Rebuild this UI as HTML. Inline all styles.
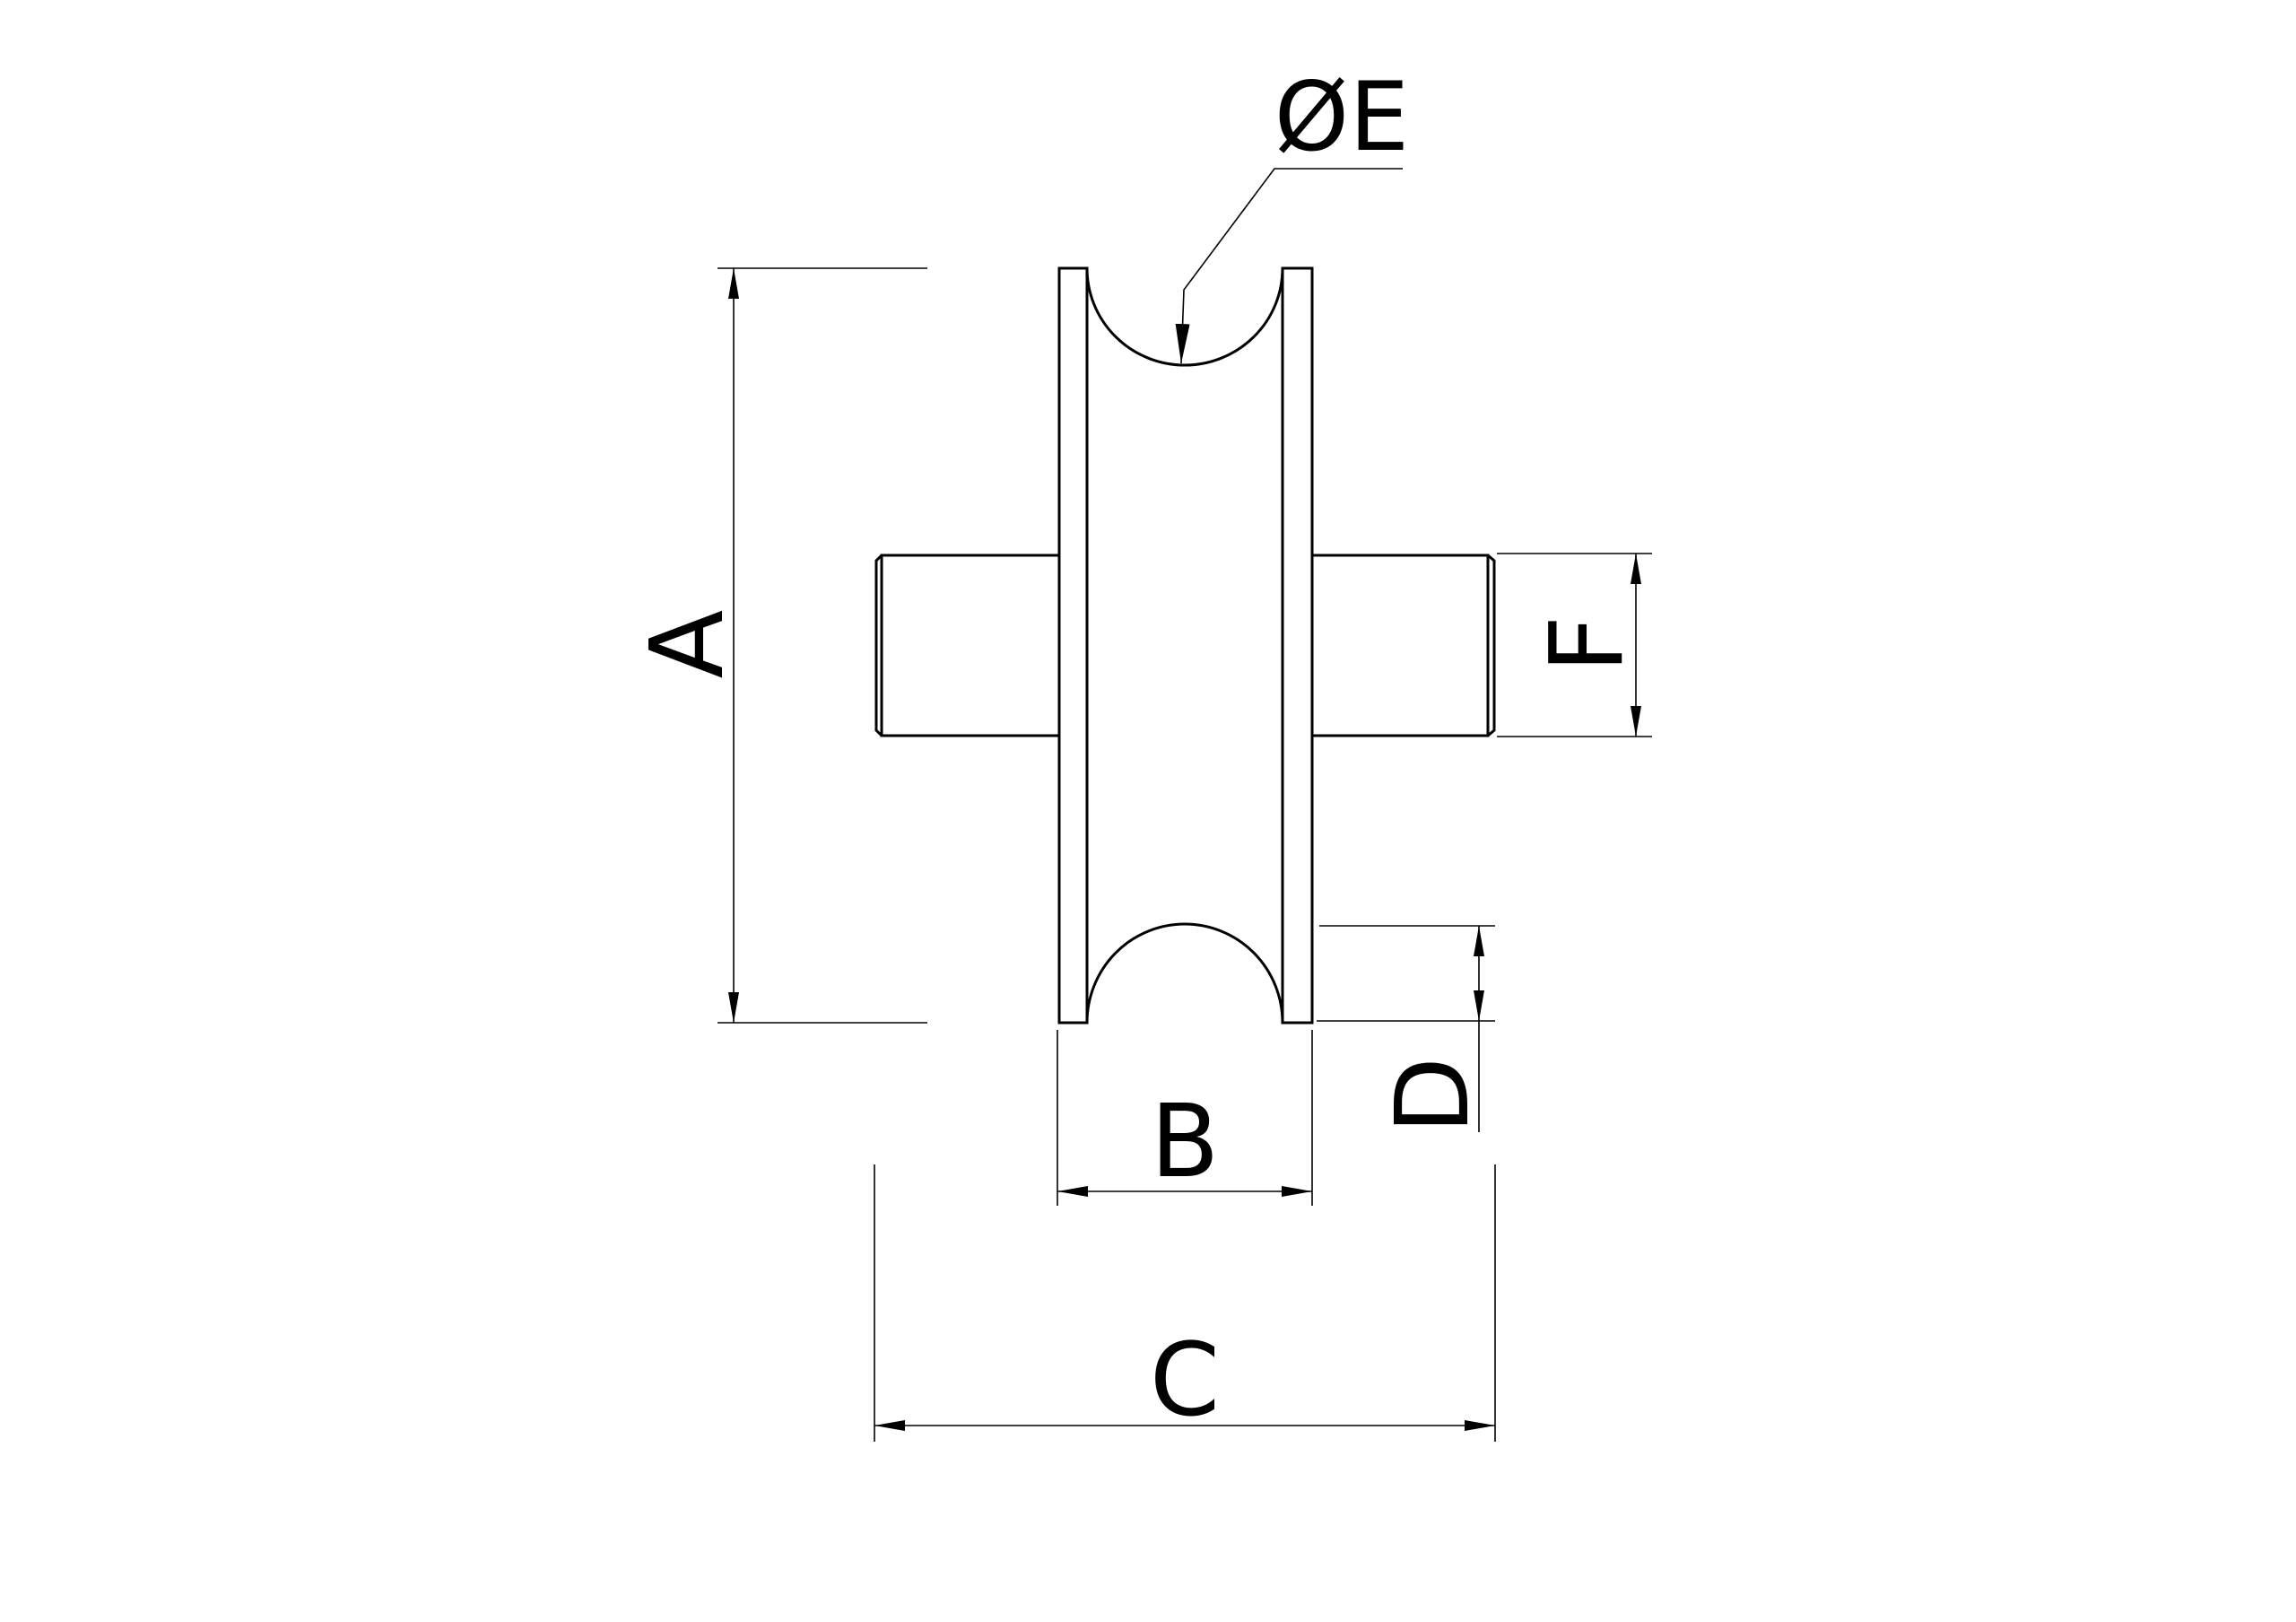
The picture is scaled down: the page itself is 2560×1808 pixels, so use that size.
<!DOCTYPE html>
<html><head><style>html,body{margin:0;padding:0;background:#fff}svg{display:block}</style></head>
<body>
<svg width="2560" height="1808" viewBox="0 0 2560 1808" xmlns="http://www.w3.org/2000/svg">
<defs>
<marker id="ar" viewBox="0 0 34 12" refX="34" refY="6" markerWidth="34" markerHeight="12" markerUnits="userSpaceOnUse" orient="auto-start-reverse">
<path d="M0,0 L34,6 L0,12 Z" fill="#000"/></marker>
<marker id="ar2" viewBox="0 0 44 16" refX="44" refY="8" markerWidth="44" markerHeight="16" markerUnits="userSpaceOnUse" orient="auto">
<path d="M0,0 L44,8 L0,16 Z" fill="#000"/></marker>
</defs>
<g fill="none" stroke="#000" stroke-width="3">
<rect x="1181" y="299" width="31" height="841"/>
<rect x="1430" y="299" width="33" height="841"/>
<path d="M1212,299 A109,108 0 0 0 1430,299"/>
<path d="M1212,1140 A109,110 0 0 1 1430,1140"/>
<path d="M1181,619 L983,619 L983,820 L1181,820"/>
<path d="M983,619 L977,625 L977,814 L983,820"/>
<path d="M1463,619 L1659,619 L1659,820 L1463,820"/>
<path d="M1659,619 L1666,625 L1666,814 L1659,820"/>
</g>
<g fill="none" stroke="#000" stroke-width="1.6">
<line x1="800" y1="299" x2="1034" y2="299"/>
<line x1="800" y1="1140" x2="1034" y2="1140"/>
<line x1="818" y1="299" x2="818" y2="1140" marker-start="url(#ar)" marker-end="url(#ar)"/>
<line x1="1669" y1="617" x2="1842" y2="617"/>
<line x1="1669" y1="821" x2="1842" y2="821"/>
<line x1="1824" y1="617" x2="1824" y2="821" marker-start="url(#ar)" marker-end="url(#ar)"/>
<line x1="1471" y1="1032" x2="1667" y2="1032"/>
<line x1="1468" y1="1138" x2="1667" y2="1138"/>
<line x1="1649" y1="1032" x2="1649" y2="1138" marker-start="url(#ar)" marker-end="url(#ar)"/>
<line x1="1649" y1="1138" x2="1649" y2="1262"/>
<line x1="1179" y1="1148" x2="1179" y2="1344"/>
<line x1="1463" y1="1148" x2="1463" y2="1344"/>
<line x1="1179" y1="1328" x2="1463" y2="1328" marker-start="url(#ar)" marker-end="url(#ar)"/>
<line x1="975" y1="1298" x2="975" y2="1607"/>
<line x1="1667" y1="1298" x2="1667" y2="1607"/>
<line x1="975" y1="1589" x2="1667" y2="1589" marker-start="url(#ar)" marker-end="url(#ar)"/>
<path d="M1564,188 L1421,188 L1320,323 L1317,405" marker-end="url(#ar2)"/>
</g>
<g font-family="'DejaVu Sans','Liberation Sans',sans-serif" font-size="112" fill="#000" text-anchor="middle">
<text x="1496" y="167" font-size="106">ØE</text>
<text x="1321" y="1311">B</text>
<text x="1321" y="1577">C</text>
<text transform="translate(805,718) rotate(-90)">A</text>
<text transform="translate(1808,718) rotate(-90)">F</text>
<text transform="translate(1636,1221) rotate(-90)">D</text>
</g>
</svg>
</body></html>
